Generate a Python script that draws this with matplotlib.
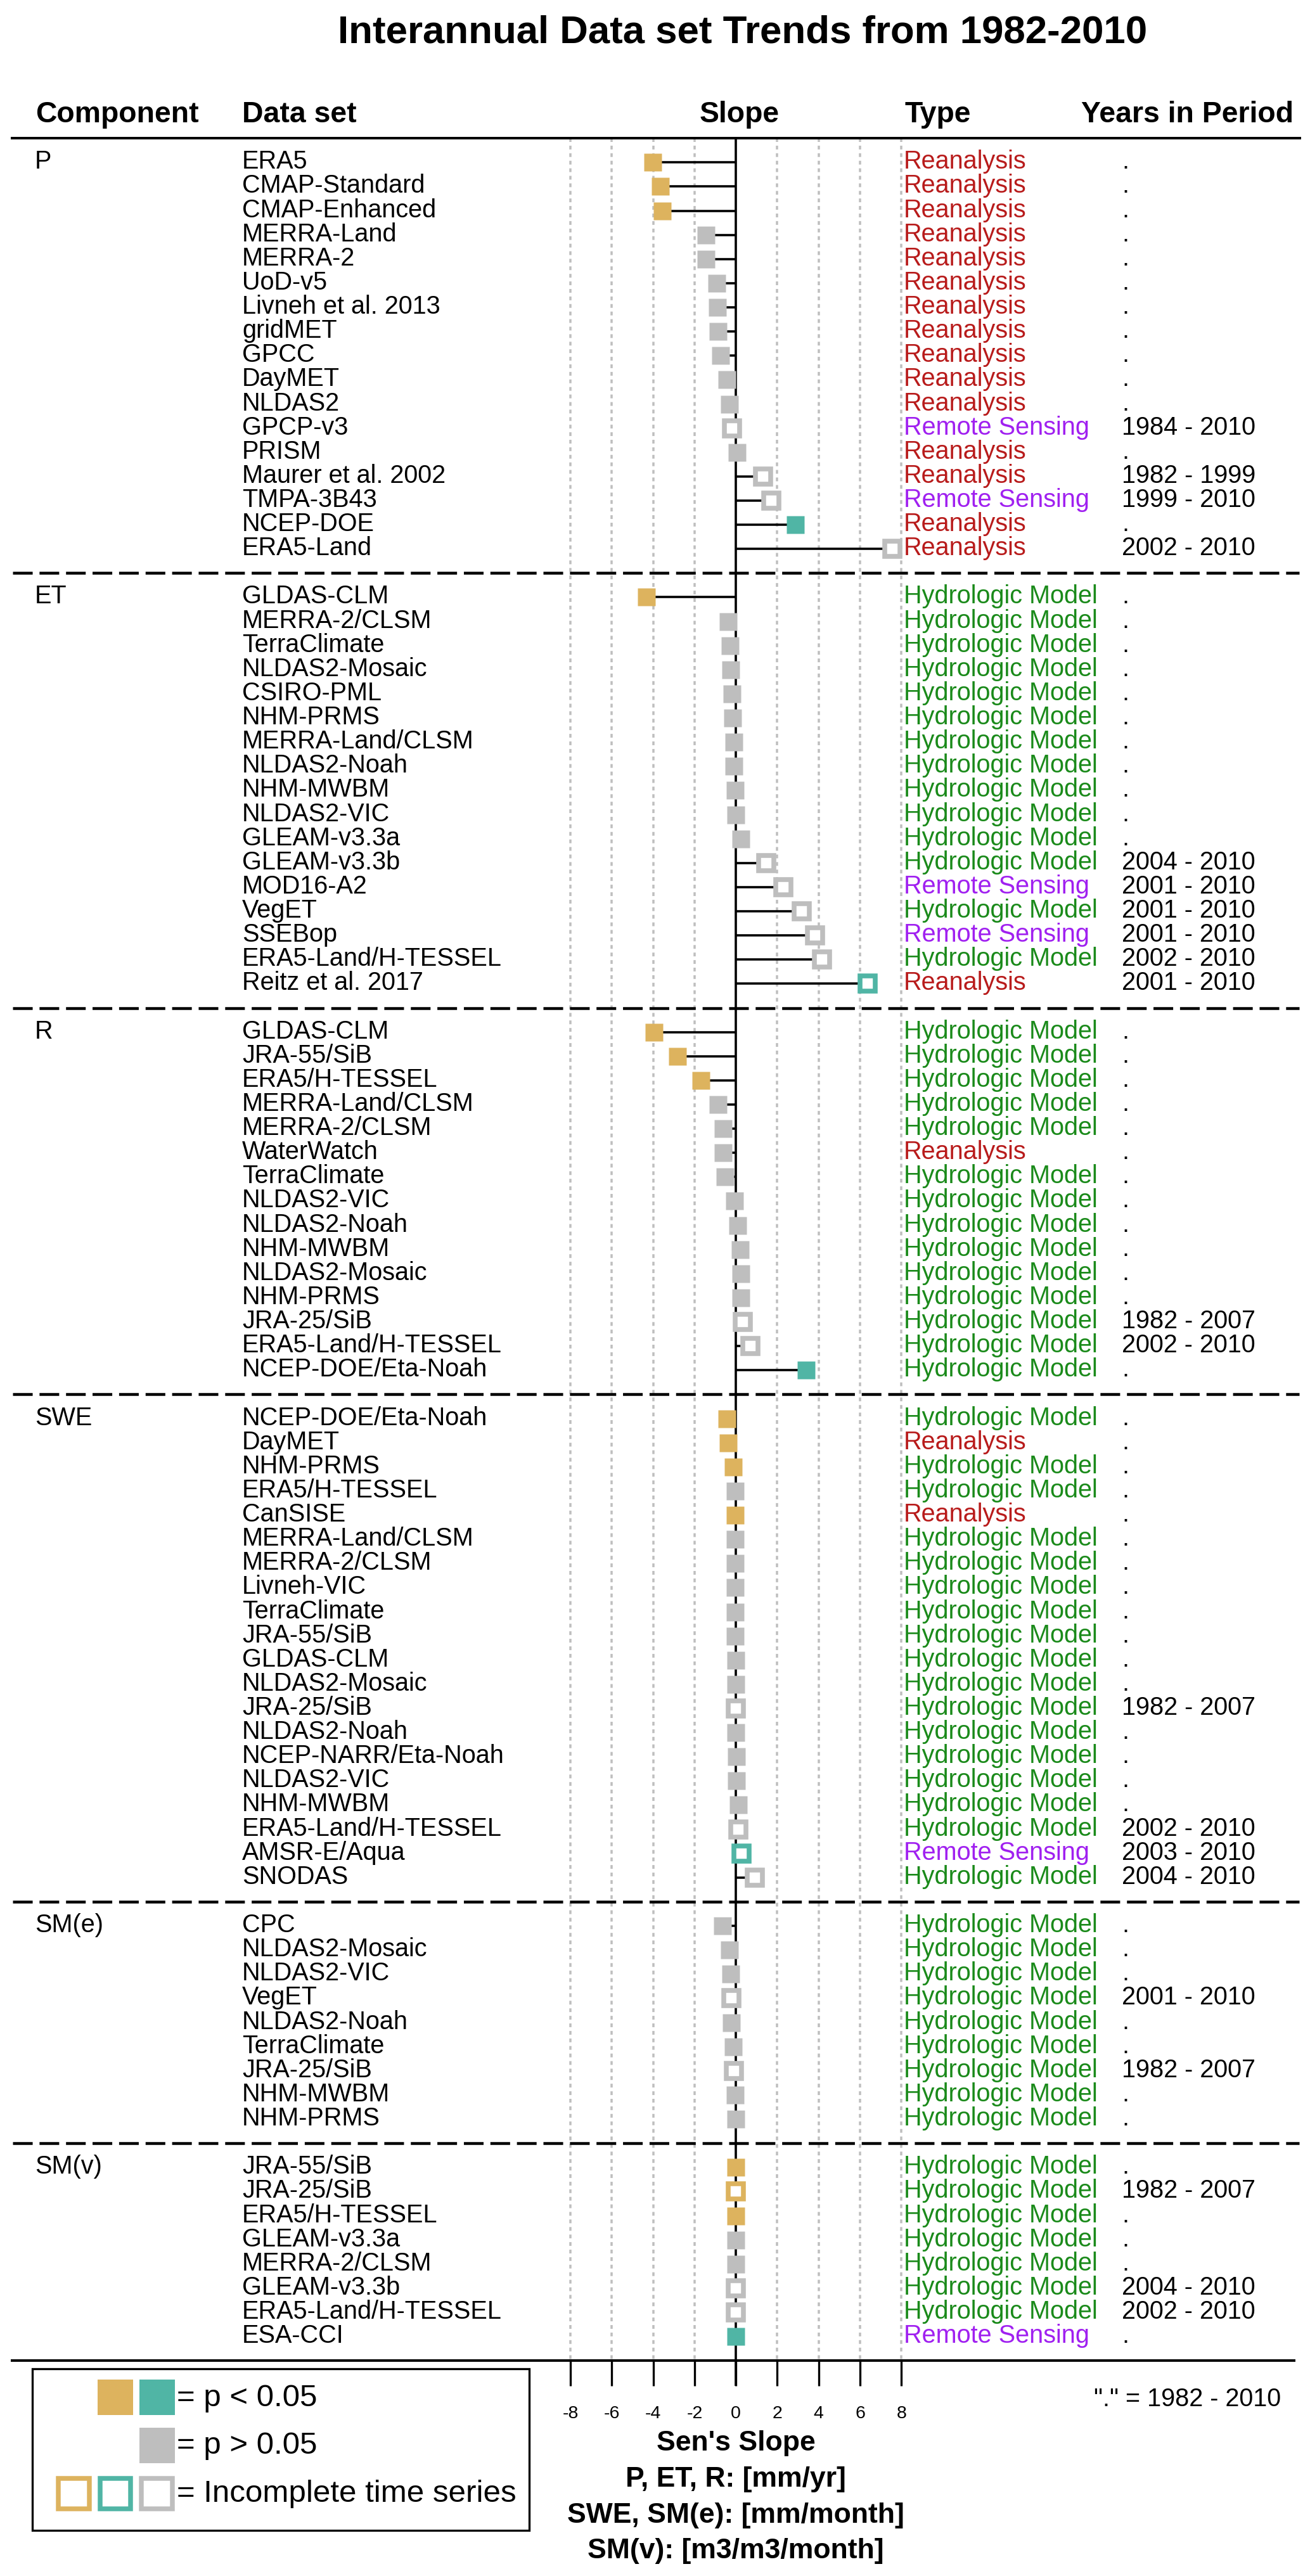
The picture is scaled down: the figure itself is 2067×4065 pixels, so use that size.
import matplotlib
matplotlib.use("Agg")
import matplotlib.pyplot as plt
from matplotlib.patches import Rectangle

plt.rcParams['font.family'] = ['Liberation Sans', 'DejaVu Sans']

# ------------------------------------------------------------------ data
components = ["P", "ET", "R", "SWE", "SM(e)", "SM(v)"]

# sig codes: g = p<0.05 (negative, gold), t = p<0.05 (positive, teal), n = p>0.05 (gray)
# type codes: RA = Reanalysis, HM = Hydrologic Model, RS = Remote Sensing
p_names = ["ERA5", "CMAP-Standard", "CMAP-Enhanced", "MERRA-Land", "MERRA-2", "UoD-v5",
           "Livneh et al. 2013", "gridMET", "GPCC", "DayMET", "NLDAS2", "GPCP-v3", "PRISM",
           "Maurer et al. 2002", "TMPA-3B43", "NCEP-DOE", "ERA5-Land"]
p_slopes = [-4.02, -3.66, -3.57, -1.46, -1.46, -0.93, -0.90, -0.87, -0.75, -0.44, -0.31,
            -0.18, 0.04, 1.31, 1.72, 2.86, 7.56]
p_sig = ["g", "g", "g", "n", "n", "n", "n", "n", "n", "n", "n", "n", "n", "n", "n", "t", "n"]
p_types = ["RA", "RA", "RA", "RA", "RA", "RA", "RA", "RA", "RA", "RA", "RA", "RS", "RA",
           "RA", "RS", "RA", "RA"]
p_years = [".", ".", ".", ".", ".", ".", ".", ".", ".", ".", ".", "1984 - 2010", ".",
           "1982 - 1999", "1999 - 2010", ".", "2002 - 2010"]

et_names = ["GLDAS-CLM", "MERRA-2/CLSM", "TerraClimate", "NLDAS2-Mosaic", "CSIRO-PML",
            "NHM-PRMS", "MERRA-Land/CLSM", "NLDAS2-Noah", "NHM-MWBM", "NLDAS2-VIC",
            "GLEAM-v3.3a", "GLEAM-v3.3b", "MOD16-A2", "VegET", "SSEBop",
            "ERA5-Land/H-TESSEL", "Reitz et al. 2017"]
et_slopes = [-4.32, -0.36, -0.29, -0.26, -0.19, -0.15, -0.11, -0.11, -0.05, -0.01, 0.25,
             1.45, 2.30, 3.17, 3.81, 4.16, 6.37]
et_sig = ["g", "n", "n", "n", "n", "n", "n", "n", "n", "n", "n", "n", "n", "n", "n", "n", "t"]
et_types = ["HM", "HM", "HM", "HM", "HM", "HM", "HM", "HM", "HM", "HM", "HM", "HM", "RS",
            "HM", "RS", "HM", "RA"]
et_years = [".", ".", ".", ".", ".", ".", ".", ".", ".", ".", ".", "2004 - 2010",
            "2001 - 2010", "2001 - 2010", "2001 - 2010", "2002 - 2010", "2001 - 2010"]

r_names = ["GLDAS-CLM", "JRA-55/SiB", "ERA5/H-TESSEL", "MERRA-Land/CLSM", "MERRA-2/CLSM",
           "WaterWatch", "TerraClimate", "NLDAS2-VIC", "NLDAS2-Noah", "NHM-MWBM",
           "NLDAS2-Mosaic", "NHM-PRMS", "JRA-25/SiB", "ERA5-Land/H-TESSEL",
           "NCEP-DOE/Eta-Noah"]
r_slopes = [-3.95, -2.82, -1.70, -0.86, -0.62, -0.62, -0.52, -0.08, 0.08, 0.22, 0.25,
            0.25, 0.33, 0.71, 3.39]
r_sig = ["g", "g", "g", "n", "n", "n", "n", "n", "n", "n", "n", "n", "n", "n", "t"]
r_types = ["HM", "HM", "HM", "HM", "HM", "RA", "HM", "HM", "HM", "HM", "HM", "HM", "HM",
           "HM", "HM"]
r_years = [".", ".", ".", ".", ".", ".", ".", ".", ".", ".", ".", ".", "1982 - 2007",
           "2002 - 2010", "."]

swe_names = ["NCEP-DOE/Eta-Noah", "DayMET", "NHM-PRMS", "ERA5/H-TESSEL", "CanSISE",
             "MERRA-Land/CLSM", "MERRA-2/CLSM", "Livneh-VIC", "TerraClimate", "JRA-55/SiB",
             "GLDAS-CLM", "NLDAS2-Mosaic", "JRA-25/SiB", "NLDAS2-Noah",
             "NCEP-NARR/Eta-Noah", "NLDAS2-VIC", "NHM-MWBM", "ERA5-Land/H-TESSEL",
             "AMSR-E/Aqua", "SNODAS"]
swe_slopes = [-0.42, -0.36, -0.12, -0.05, -0.05, -0.04, -0.03, -0.03, -0.03, -0.03, 0.00,
              0.00, 0.00, 0.00, 0.03, 0.03, 0.11, 0.12, 0.27, 0.90]
swe_sig = ["g", "g", "g", "n", "g", "n", "n", "n", "n", "n", "n", "n", "n", "n", "n", "n",
           "n", "n", "t", "n"]
swe_types = ["HM", "RA", "HM", "HM", "RA", "HM", "HM", "HM", "HM", "HM", "HM", "HM", "HM",
             "HM", "HM", "HM", "HM", "HM", "RS", "HM"]
swe_years = [".", ".", ".", ".", ".", ".", ".", ".", ".", ".", ".", ".", "1982 - 2007",
             ".", ".", ".", ".", "2002 - 2010", "2003 - 2010", "2004 - 2010"]

sme_names = ["CPC", "NLDAS2-Mosaic", "NLDAS2-VIC", "VegET", "NLDAS2-Noah", "TerraClimate",
             "JRA-25/SiB", "NHM-MWBM", "NHM-PRMS"]
sme_slopes = [-0.66, -0.31, -0.25, -0.21, -0.21, -0.12, -0.10, -0.04, -0.01]
sme_sig = ["n", "n", "n", "n", "n", "n", "n", "n", "n"]
sme_types = ["HM", "HM", "HM", "HM", "HM", "HM", "HM", "HM", "HM"]
sme_years = [".", ".", ".", "2001 - 2010", ".", ".", "1982 - 2007", ".", "."]

smv_names = ["JRA-55/SiB", "JRA-25/SiB", "ERA5/H-TESSEL", "GLEAM-v3.3a", "MERRA-2/CLSM",
             "GLEAM-v3.3b", "ERA5-Land/H-TESSEL", "ESA-CCI"]
smv_slopes = [0.0, 0.0, 0.0, 0.0, 0.0, 0.0, 0.0, 0.0]
smv_sig = ["g", "g", "g", "n", "n", "n", "n", "t"]
smv_types = ["HM", "HM", "HM", "HM", "HM", "HM", "HM", "RS"]
smv_years = [".", "1982 - 2007", ".", ".", ".", "2004 - 2010", "2002 - 2010", "."]

x_ticks = [-8, -6, -4, -2, 0, 2, 4, 6, 8]

sections = [
    (p_names, p_slopes, p_sig, p_types, p_years),
    (et_names, et_slopes, et_sig, et_types, et_years),
    (r_names, r_slopes, r_sig, r_types, r_years),
    (swe_names, swe_slopes, swe_sig, swe_types, swe_years),
    (sme_names, sme_slopes, sme_sig, sme_types, sme_years),
    (smv_names, smv_slopes, smv_sig, smv_types, smv_years),
]

# ------------------------------------------------------------------ styles
sig_colors = {"g": "#DDB35E", "t": "#50B5A5", "n": "#BEBEBE"}
type_labels = {"RA": "Reanalysis", "HM": "Hydrologic Model", "RS": "Remote Sensing"}
type_colors = {"RA": "#B81B1B", "HM": "#1A8A1A", "RS": "#A020F0"}

W, H, DPI = 2067, 4065, 100
PT = 72.0 / DPI          # points per pixel

fig = plt.figure(figsize=(W / DPI, H / DPI), dpi=DPI)
ax = fig.add_axes([0, 0, 1, 1])
ax.set_axis_off()

X0, PPU = 1161.2, 32.65   # pixel of slope 0, pixels per slope unit
Y0, PITCH = 256.3, 38.12  # pixel of first row, pixels per row
ax.set_xlim(-X0 / PPU, (W - X0) / PPU)
ax.set_ylim((H - Y0) / PITCH, -Y0 / PITCH)


def xd(px):
    return (px - X0) / PPU


def yd(py):
    return (py - Y0) / PITCH


TXT = 28.5
BASE = 10.0 / PITCH  # baseline offset below row centre

# ------------------------------------------------------------------ frame
y_top = yd(218)
y_bot = yd(3725)
for t in x_ticks:
    if t != 0:
        ax.plot([t, t], [y_top, y_bot], color="#BEBEBE", lw=3.5 * PT,
                ls=(0, (1.7, 1.7)), zorder=1)
ax.plot([0, 0], [y_top, yd(3765)], color="black", lw=3.6 * PT, zorder=2,
        solid_capstyle="butt")
ax.plot([xd(17), xd(2053)], [y_top, y_top], color="black", lw=4 * PT,
        solid_capstyle="butt", zorder=4)
ax.plot([xd(17), xd(2044)], [y_bot, y_bot], color="black", lw=4 * PT,
        solid_capstyle="butt", zorder=4)
for t in x_ticks:
    ax.plot([t, t], [y_bot, yd(3765)], color="black", lw=3.3 * PT,
            solid_capstyle="butt")
    ax.text(t, yd(3816), str(t), fontsize=20.5, ha="center", va="baseline")

# ------------------------------------------------------------------ header
ax.text(xd(1172), yd(67), "Interannual Data set Trends from 1982-2010",
        fontsize=44.5, fontweight="bold", ha="center", va="baseline")
hy = yd(192.7)
ax.text(xd(56), hy, "Component", fontsize=33.4, fontweight="bold", va="baseline")
ax.text(xd(382), hy, "Data set", fontsize=33.4, fontweight="bold", va="baseline")
ax.text(xd(1167), hy, "Slope", fontsize=33.4, fontweight="bold", va="baseline",
        ha="center")
ax.text(xd(1428), hy, "Type", fontsize=33.4, fontweight="bold", va="baseline")
ax.text(xd(1706), hy, "Years in Period", fontsize=33.4, fontweight="bold",
        va="baseline")

# ------------------------------------------------------------------ rows
row = 0
for si, (names, slopes, sigs, types, years) in enumerate(sections):
    if si > 0:
        ax.plot([xd(20), xd(2050)], [row, row], color="black", lw=4.5 * PT,
                ls=(0, (6.9, 2.4)), zorder=4)
        row += 1
    ax.text(xd(55), row + BASE, components[si], fontsize=TXT, va="baseline")
    for name, s, sg, ty, yr in zip(names, slopes, sigs, types, years):
        col = sig_colors[sg]
        ax.plot([0, s], [row, row], color="black", lw=3.6 * PT, zorder=2,
                solid_capstyle="butt")
        if yr == ".":
            ax.plot([s], [row], marker="s", ms=28.6 * PT, mfc=col, mec="none",
                    ls="none", zorder=3)
        else:
            ax.plot([s], [row], marker="s", ms=23.6 * PT, mfc="white", mec=col,
                    mew=7.6 * PT, ls="none", zorder=3)
        ax.text(xd(382), row + BASE, name, fontsize=TXT, va="baseline")
        ax.text(xd(1426), row + BASE, type_labels[ty], fontsize=TXT,
                va="baseline", color=type_colors[ty])
        ax.text(xd(1770), row + BASE, yr, fontsize=TXT, va="baseline")
        row += 1

# ------------------------------------------------------------------ axis title
for txt, by in [("Sen's Slope", 3867), ("P, ET, R: [mm/yr]", 3924),
                ("SWE, SM(e): [mm/month]", 3981), ("SM(v): [m3/m3/month]", 4037)]:
    ax.text(0, yd(by), txt, fontsize=32, fontweight="bold", ha="center",
            va="baseline")

ax.text(xd(1726), yd(3797), '"." = 1982 - 2010', fontsize=28.5, va="baseline")

# ------------------------------------------------------------------ legend
def px_rect(x0, y0, x1, y1, **kw):
    ax.add_patch(Rectangle((xd(x0), yd(y0)), (x1 - x0) / PPU, (y1 - y0) / PITCH, **kw))


px_rect(51, 3738, 835, 3993, fill=False, ec="black", lw=3.3 * PT, zorder=5)
sq = 56.0
bw = 7.5
cols_x = [88.5, 154, 219.5]
rows_y = [3755, 3831, 3907]
# filled significant
px_rect(cols_x[1], rows_y[0], cols_x[1] + sq, rows_y[0] + sq, fc=sig_colors["g"], ec="none")
px_rect(cols_x[2], rows_y[0], cols_x[2] + sq, rows_y[0] + sq, fc=sig_colors["t"], ec="none")
# filled not significant
px_rect(cols_x[2], rows_y[1], cols_x[2] + sq, rows_y[1] + sq, fc=sig_colors["n"], ec="none")
# open (incomplete)
for cx, key in zip(cols_x, ["g", "t", "n"]):
    px_rect(cx + bw / 2, rows_y[2] + bw / 2, cx + sq - bw / 2, rows_y[2] + sq - bw / 2,
            fc="white", ec=sig_colors[key], lw=bw * PT)
ax.text(xd(279), yd(3797), "= p < 0.05", fontsize=35.5, va="baseline")
ax.text(xd(279), yd(3872), "= p > 0.05", fontsize=35.5, va="baseline")
ax.text(xd(279), yd(3948), "= Incomplete time series", fontsize=35.5, va="baseline")

fig.savefig("out.png", dpi=DPI)
